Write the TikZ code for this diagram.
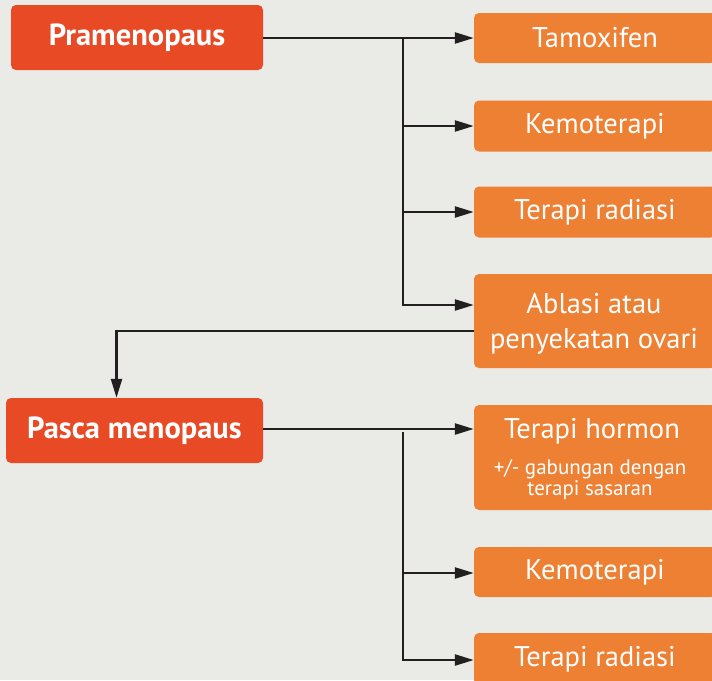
\documentclass[tikz,border=0pt]{standalone}
\usepackage{fontspec}
\setmainfont{PT Sans}
\usetikzlibrary{arrows.meta}
\definecolor{bgc}{HTML}{EAEAE6}
\definecolor{redb}{HTML}{E84A26}
\definecolor{orb}{HTML}{EE8033}
\definecolor{lnc}{HTML}{231F20}
\tikzset{
  mainbox/.style={fill=redb, rounded corners=5pt, text=white, inner sep=0pt, font=\fontsize{30.5}{34}\selectfont\bfseries, align=center},
  optbox/.style={fill=orb, rounded corners=5pt, text=white, inner sep=0pt, minimum width=242pt, font=\fontsize{28.5}{35}\selectfont, align=center},
  conn/.style={draw=lnc, line width=2.4pt},
  arr/.style={conn, -{Triangle[length=19pt,width=11pt]}},
}
\begin{document}
\begin{tikzpicture}[x=1pt,y=-1pt]
\useasboundingbox (0,0) rectangle (712,680);
\fill[bgc] (0,0) rectangle (712,680);
\clip (0,0) rectangle (712,680);
% main boxes
\node[mainbox, minimum width=252pt, minimum height=65pt] (pra) at (137,37.5) {Pramenopaus};
\node[mainbox, minimum width=257pt, minimum height=65pt] (pas) at (134.5,430.5) {Pasca menopaus};
% option boxes
\node[optbox, minimum height=50pt] (tam) at (595,38) {Tamoxifen};
\node[optbox, minimum height=51pt] (kem1) at (595,126) {Kemoterapi};
\node[optbox, minimum height=51pt] (rad1) at (595,212) {Terapi radiasi};
\node[optbox, minimum height=94pt] (abl) at (595,321) {};
\node[text=white, font=\fontsize{28.5}{35}\selectfont, align=center, anchor=base, inner sep=0pt] (ablt) at (594,348) {Ablasi atau\\penyekatan ovari};
\node[optbox, minimum height=105pt] (hor) at (595,457.5) {};
\node[text=white, font=\fontsize{28.5}{30}\selectfont, anchor=base, inner sep=0pt] (hort) at (592,438) {Terapi hormon};
\node[text=white, font=\fontsize{21}{20.5}\selectfont, align=center, anchor=base, inner sep=0pt] (hors) at (590,495) {+/- gabungan dengan\\terapi sasaran};
\node[optbox, minimum height=50pt] (kem2) at (595,572) {Kemoterapi};
\node[optbox, minimum height=52pt] (rad2) at (595,659) {Terapi radiasi};
% connectors
\coordinate (j1) at (403,38);
\draw[arr] (pra.east |- tam.west) -- (tam.west);
\draw[arr] (j1) |- (kem1.west);
\draw[arr] (j1) |- (rad1.west);
\draw[arr] (j1) |- ([yshift=16pt]abl.west);
\draw[arr] ([yshift=-10pt]abl.west) -| ([xshift=-18pt]pas.north);
\draw[arr] ([yshift=1.5pt]pas.east) -- ([yshift=1.5pt]pas.east -| hor.west);
\coordinate (j2) at (403,432);
\draw[arr] (j2) |- ([yshift=-1pt]kem2.west);
\draw[arr] (j2) |- ([yshift=-1pt]rad2.west);
\end{tikzpicture}
\end{document}
